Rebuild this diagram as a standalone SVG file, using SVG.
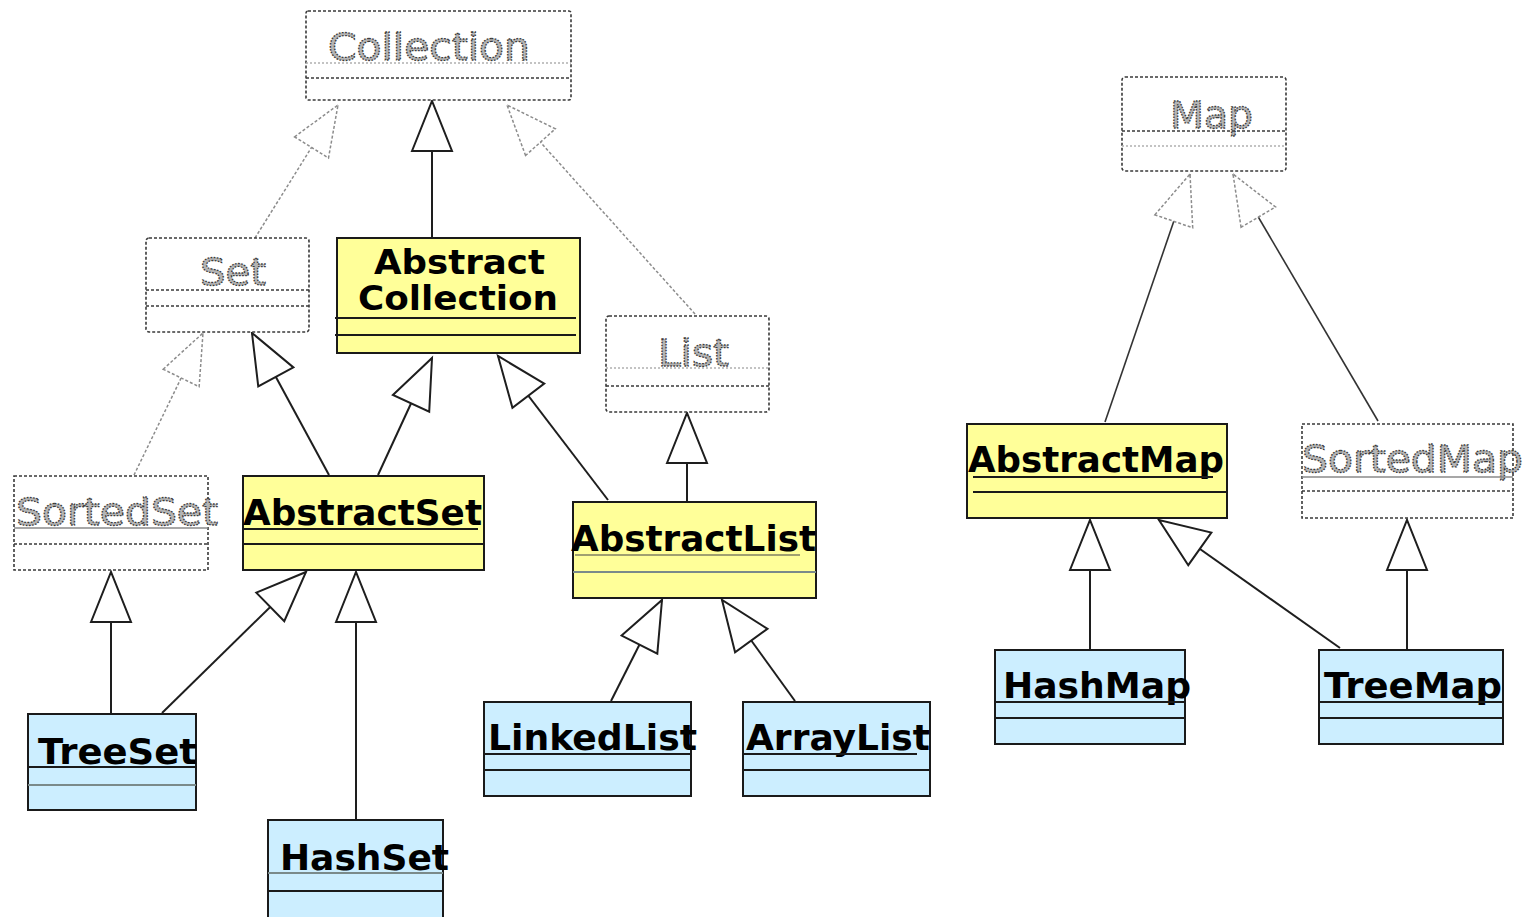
<svg xmlns="http://www.w3.org/2000/svg" width="1530" height="917" viewBox="0 0 1530 917">
  <style>
    .iface { fill: #ffffff; stroke: #3a3a3a; stroke-width: 1.6; stroke-dasharray: 3 2; }
    .isep { stroke: #3a3a3a; stroke-width: 1.4; stroke-dasharray: 3 2; fill: none; }
    .isep2 { stroke: #b0b0b0; stroke-width: 1.4; stroke-dasharray: 2 2; fill: none; }
    .abs { fill: #ffff99; stroke: #1a1a1a; stroke-width: 2; }
    .impl { fill: #cceeff; stroke: #1a1a1a; stroke-width: 2; }
    .sep { stroke: #1a1a1a; stroke-width: 2; fill: none; }
    .sepf { stroke: #7a8a8a; stroke-width: 2; fill: none; }
    .gname { font-family: "DejaVu Sans", Verdana, sans-serif; font-size: 38px; fill: #b4b4b4; stroke: #3a3a3a; stroke-width: 1.3; stroke-dasharray: 1.6 1.3; }
    .bname { font-family: "DejaVu Sans", Verdana, sans-serif; font-weight: bold; font-size: 36px; fill: #000000; }
    .bname2 { font-family: "DejaVu Sans", Verdana, sans-serif; font-weight: bold; font-size: 33px; fill: #000000; }
    .solid { stroke: #1e1e1e; stroke-width: 2; fill: none; }
    .dash { stroke: #8c8c8c; stroke-width: 1.5; stroke-dasharray: 3 2; fill: none; }
    .thin { stroke: #333333; stroke-width: 1.6; fill: none; }
  </style>
  <defs>
    <marker id="tri" viewBox="0 0 50 40" refX="50" refY="20" markerWidth="50" markerHeight="40" markerUnits="userSpaceOnUse" orient="auto" overflow="visible">
      <path d="M0,0 L50,20 L0,40 Z" fill="#ffffff" stroke="#1e1e1e" stroke-width="2"/>
    </marker>
    <marker id="triD" viewBox="0 0 50 40" refX="50" refY="20" markerWidth="50" markerHeight="40" markerUnits="userSpaceOnUse" orient="auto" overflow="visible">
      <path d="M0,0 L50,20 L0,40 Z" fill="#ffffff" stroke="#8c8c8c" stroke-width="1.5" stroke-dasharray="3 2"/>
    </marker>
  </defs>

  <!-- generalization / realization connectors -->
  <g id="connectors">
    <path class="dash" d="M255,238 L338,105" marker-end="url(#triD)"/>
    <path class="solid" d="M432,238 L432,101" marker-end="url(#tri)"/>
    <path class="dash" d="M695,314 L507,105" marker-end="url(#triD)"/>
    <path class="dash" d="M134,475 L203,333" marker-end="url(#triD)"/>
    <path class="solid" d="M329,475 L252,333" marker-end="url(#tri)"/>
    <path class="solid" d="M378,475 L432,358" marker-end="url(#tri)"/>
    <path class="solid" d="M608,500 L498,356" marker-end="url(#tri)"/>
    <path class="solid" d="M687,502 L687,413" marker-end="url(#tri)"/>
    <path class="solid" d="M111,714 L111,572" marker-end="url(#tri)"/>
    <path class="solid" d="M162,713 L306,572" marker-end="url(#tri)"/>
    <path class="solid" d="M356,820 L356,572" marker-end="url(#tri)"/>
    <path class="solid" d="M611,701 L662,600" marker-end="url(#tri)"/>
    <path class="solid" d="M795,701 L722,600" marker-end="url(#tri)"/>
    <path class="thin" d="M1105,422 L1190,174" marker-end="url(#triD)"/>
    <path class="thin" d="M1378,421 L1233,174" marker-end="url(#triD)"/>
    <path class="solid" d="M1090,650 L1090,520" marker-end="url(#tri)"/>
    <path class="solid" d="M1340,648 L1159,520" marker-end="url(#tri)"/>
    <path class="solid" d="M1407,650 L1407,520" marker-end="url(#tri)"/>
  </g>

  <!-- interfaces -->
  <g id="Collection">
    <rect class="iface" x="306" y="11" width="265" height="89" rx="2"/>
    <text class="gname" x="328" y="60" textLength="202" lengthAdjust="spacingAndGlyphs">Collection</text>
    <line class="isep2" x1="306" y1="63" x2="571" y2="63"/>
    <line class="isep" x1="306" y1="78" x2="571" y2="78"/>
  </g>
  <g id="Set">
    <rect class="iface" x="146" y="238" width="163" height="94" rx="3"/>
    <text class="gname" x="200" y="285" textLength="66" lengthAdjust="spacingAndGlyphs">Set</text>
    <line class="isep" x1="146" y1="290" x2="309" y2="290"/>
    <line class="isep" x1="146" y1="306" x2="309" y2="306"/>
  </g>
  <g id="List">
    <rect class="iface" x="606" y="316" width="163" height="96" rx="3"/>
    <text class="gname" x="658" y="366" textLength="71" lengthAdjust="spacingAndGlyphs">List</text>
    <line class="isep2" x1="606" y1="368" x2="769" y2="368"/>
    <line class="isep" x1="606" y1="386" x2="769" y2="386"/>
  </g>
  <g id="SortedSet">
    <rect class="iface" x="14" y="476" width="194" height="94"/>
    <text class="gname" x="16" y="525" textLength="202" lengthAdjust="spacingAndGlyphs">SortedSet</text>
    <line x1="14" y1="528" x2="208" y2="528" style="stroke:#8a8a8a;stroke-width:1.5"/>
    <line class="isep" x1="14" y1="544" x2="208" y2="544"/>
  </g>
  <g id="Map">
    <rect class="iface" x="1122" y="77" width="164" height="94" rx="3"/>
    <text class="gname" x="1170" y="128" textLength="83" lengthAdjust="spacingAndGlyphs">Map</text>
    <line class="isep" x1="1122" y1="131" x2="1286" y2="131"/>
    <line class="isep2" x1="1122" y1="146" x2="1286" y2="146"/>
  </g>
  <g id="SortedMap">
    <rect class="iface" x="1302" y="424" width="211" height="94"/>
    <text class="gname" x="1302" y="472" textLength="221" lengthAdjust="spacingAndGlyphs">SortedMap</text>
    <line x1="1302" y1="477" x2="1513" y2="477" style="stroke:#8a8a8a;stroke-width:1.5"/>
    <line class="isep" x1="1302" y1="491" x2="1513" y2="491"/>
  </g>

  <!-- abstract classes -->
  <g id="AbstractCollection">
    <rect class="abs" x="337" y="238" width="243" height="115"/>
    <text class="bname2" x="374" y="274" textLength="171" lengthAdjust="spacingAndGlyphs">Abstract</text>
    <text class="bname2" x="358" y="310" textLength="200" lengthAdjust="spacingAndGlyphs">Collection</text>
    <line class="sep" x1="335" y1="318" x2="576" y2="318"/>
    <line class="sep" x1="335" y1="335" x2="576" y2="335"/>
  </g>
  <g id="AbstractSet">
    <rect class="abs" x="243" y="476" width="241" height="94"/>
    <text class="bname" x="243" y="525" textLength="239" lengthAdjust="spacingAndGlyphs">AbstractSet</text>
    <line class="sep" x1="243" y1="529" x2="478" y2="529"/>
    <line class="sep" x1="243" y1="544" x2="484" y2="544"/>
  </g>
  <g id="AbstractList">
    <rect class="abs" x="573" y="502" width="243" height="96"/>
    <text class="bname" x="571" y="551" textLength="245" lengthAdjust="spacingAndGlyphs">AbstractList</text>
    <line x1="575" y1="555" x2="800" y2="555" style="stroke:#a0a070;stroke-width:2"/>
    <line class="sepf" x1="573" y1="572" x2="816" y2="572"/>
  </g>
  <g id="AbstractMap">
    <rect class="abs" x="967" y="424" width="260" height="94"/>
    <text class="bname" x="968" y="472" textLength="256" lengthAdjust="spacingAndGlyphs">AbstractMap</text>
    <line class="sep" x1="973" y1="477" x2="1213" y2="477"/>
    <line class="sep" x1="973" y1="492" x2="1227" y2="492"/>
  </g>

  <!-- concrete classes -->
  <g id="TreeSet">
    <rect class="impl" x="28" y="714" width="168" height="96"/>
    <text class="bname" x="38" y="764" textLength="159" lengthAdjust="spacingAndGlyphs">TreeSet</text>
    <line class="sep" x1="28" y1="767" x2="196" y2="767"/>
    <line class="sepf" x1="28" y1="785" x2="196" y2="785"/>
  </g>
  <g id="HashSet">
    <rect class="impl" x="268" y="820" width="175" height="110"/>
    <text class="bname" x="280" y="870" textLength="169" lengthAdjust="spacingAndGlyphs">HashSet</text>
    <line class="sepf" x1="268" y1="873" x2="443" y2="873"/>
    <line class="sep" x1="268" y1="891" x2="443" y2="891"/>
  </g>
  <g id="LinkedList">
    <rect class="impl" x="484" y="702" width="207" height="94"/>
    <text class="bname" x="488" y="750" textLength="209" lengthAdjust="spacingAndGlyphs">LinkedList</text>
    <line class="sep" x1="484" y1="754" x2="691" y2="754"/>
    <line class="sep" x1="484" y1="770" x2="691" y2="770"/>
  </g>
  <g id="ArrayList">
    <rect class="impl" x="743" y="702" width="187" height="94"/>
    <text class="bname" x="746" y="750" textLength="184" lengthAdjust="spacingAndGlyphs">ArrayList</text>
    <line class="sep" x1="743" y1="754" x2="917" y2="754"/>
    <line class="sep" x1="743" y1="770" x2="930" y2="770"/>
  </g>
  <g id="HashMap">
    <rect class="impl" x="995" y="650" width="190" height="94"/>
    <text class="bname" x="1003" y="698" textLength="188" lengthAdjust="spacingAndGlyphs">HashMap</text>
    <line class="sep" x1="995" y1="702" x2="1185" y2="702"/>
    <line class="sep" x1="995" y1="718" x2="1185" y2="718"/>
  </g>
  <g id="TreeMap">
    <rect class="impl" x="1319" y="650" width="184" height="94"/>
    <text class="bname" x="1324" y="698" textLength="178" lengthAdjust="spacingAndGlyphs">TreeMap</text>
    <line class="sep" x1="1319" y1="702" x2="1503" y2="702"/>
    <line class="sep" x1="1319" y1="718" x2="1503" y2="718"/>
  </g>
</svg>
